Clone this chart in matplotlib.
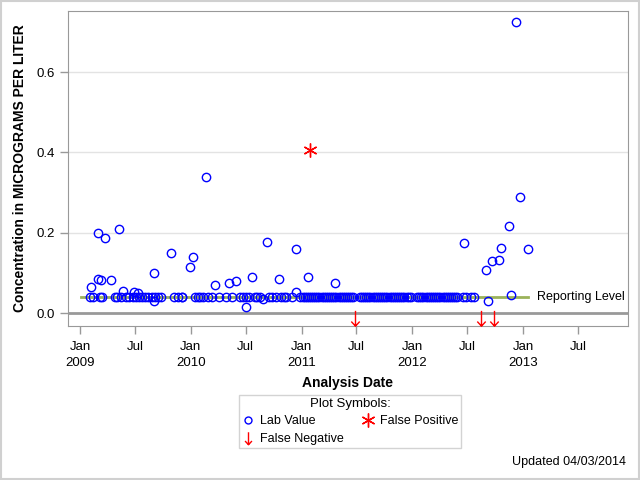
import matplotlib.pyplot as plt
from matplotlib.path import Path
from matplotlib.patches import Rectangle
import pandas as pd

plt.rcParams['font.family'] = ['Liberation Sans', 'DejaVu Sans']

# lab values above the reporting level (or just off it)
lab_dates = ['2009-02-07', '2009-02-27', '2009-03-02', '2009-03-09', '2009-03-22',
             '2009-04-14', '2009-05-10', '2009-05-23', '2009-06-28', '2009-07-11',
             '2009-08-31', '2009-09-01', '2009-10-27', '2009-12-29', '2010-01-09',
             '2010-02-20', '2010-03-23', '2010-05-05', '2010-05-31', '2010-06-30',
             '2010-07-21', '2010-08-26', '2010-09-08', '2010-10-18', '2010-12-12',
             '2010-12-15', '2011-01-21', '2011-04-21', '2012-06-18', '2012-09-01',
             '2012-09-07', '2012-09-20', '2012-10-13', '2012-10-19', '2012-11-14',
             '2012-11-22', '2012-12-07', '2012-12-20', '2013-01-16']
lab_values = [0.064, 0.200, 0.085, 0.082, 0.188,
              0.082, 0.210, 0.055, 0.053, 0.049,
              0.099, 0.029, 0.149, 0.114, 0.139,
              0.340, 0.071, 0.074, 0.080, 0.014,
              0.091, 0.034, 0.176, 0.084, 0.159,
              0.052, 0.089, 0.074, 0.174, 0.107,
              0.029, 0.129, 0.131, 0.161, 0.216,
              0.044, 0.724, 0.288, 0.159]

# lab values reported at the reporting level
rl_dates = ['2009-02-03', '2009-02-12', '2009-03-07', '2009-03-14', '2009-04-27',
            '2009-05-03', '2009-05-16', '2009-06-02', '2009-06-12', '2009-06-25',
            '2009-07-05', '2009-07-15', '2009-07-25', '2009-08-04', '2009-08-14',
            '2009-08-24', '2009-09-05', '2009-09-15', '2009-09-25', '2009-11-07',
            '2009-11-20', '2009-12-01', '2009-12-04', '2010-01-15', '2010-01-25',
            '2010-02-01', '2010-02-10', '2010-02-27', '2010-03-10', '2010-04-02',
            '2010-04-25', '2010-05-17', '2010-06-12', '2010-06-22', '2010-07-03',
            '2010-07-13', '2010-07-30', '2010-08-08', '2010-08-18', '2010-09-17',
            '2010-09-27', '2010-10-10', '2010-10-24', '2010-11-03', '2010-11-10',
            '2010-11-29', '2010-12-26',
            '2011-01-04', '2011-01-11', '2011-01-18', '2011-01-25', '2011-02-01',
            '2011-02-08', '2011-02-15', '2011-02-22', '2011-03-01', '2011-03-08',
            '2011-03-15', '2011-03-22', '2011-03-29', '2011-04-05', '2011-04-12',
            '2011-04-19', '2011-04-26', '2011-05-03', '2011-05-10', '2011-05-17',
            '2011-05-24', '2011-05-31', '2011-06-07', '2011-06-14', '2011-06-21',
            '2011-07-12', '2011-07-19', '2011-07-26', '2011-08-02', '2011-08-09',
            '2011-08-16', '2011-08-23', '2011-08-30', '2011-09-06', '2011-09-13',
            '2011-09-20', '2011-09-27', '2011-10-04', '2011-10-11', '2011-10-18',
            '2011-10-25', '2011-11-01', '2011-11-08', '2011-11-15', '2011-11-22',
            '2011-11-29', '2011-12-06', '2011-12-13', '2011-12-20', '2011-12-28',
            '2012-01-17', '2012-01-24', '2012-01-31', '2012-02-07', '2012-02-14',
            '2012-02-21', '2012-02-28', '2012-03-06', '2012-03-13', '2012-03-20',
            '2012-03-27', '2012-04-03', '2012-04-10', '2012-04-17', '2012-04-24',
            '2012-05-01', '2012-05-08', '2012-05-15', '2012-05-22', '2012-05-29',
            '2012-06-15', '2012-06-27', '2012-07-12', '2012-07-24']
rl_value = 0.04

fp_dates = ['2011-01-30']
fp_values = [0.406]

fn_dates = ['2011-06-25', '2012-08-14', '2012-09-28']
fn_y = -0.012

rl_start, rl_end = '2009-01-04', '2013-01-16'

tick_dates = ['2009-01-01', '2009-07-01', '2010-01-01', '2010-07-01', '2011-01-01',
              '2011-07-01', '2012-01-01', '2012-07-01', '2013-01-01', '2013-07-01']
tick_labels = ['Jan\n2009', 'Jul', 'Jan\n2010', 'Jul', 'Jan\n2011',
               'Jul', 'Jan\n2012', 'Jul', 'Jan\n2013', 'Jul']

arrow = Path([(0, 1), (0, -1), (-0.55, -0.4), (0, -1), (0.55, -0.4)],
             [Path.MOVETO, Path.LINETO, Path.MOVETO, Path.LINETO, Path.LINETO])

fig = plt.figure(figsize=(6.4, 4.8), dpi=100)
ax = fig.add_axes([0.106, 0.321, 0.875, 0.656])

ax.axhline(0, color='#999999', lw=2, zorder=1)
for v in [0.2, 0.4, 0.6]:
    ax.axhline(v, color='#e3e3e3', lw=1, zorder=0)

ax.plot(pd.to_datetime([rl_start, rl_end]), [rl_value, rl_value],
        color='#9bb25a', lw=2, zorder=2)
ax.text(pd.to_datetime('2013-02-14'), rl_value, 'Reporting Level',
        va='center', ha='left', fontsize=9)

ax.plot(pd.to_datetime(rl_dates), [rl_value] * len(rl_dates), ls='none',
        marker='o', ms=6, mfc='none', mec='blue', mew=1, zorder=3)
ax.plot(pd.to_datetime(lab_dates), lab_values, ls='none',
        marker='o', ms=6, mfc='none', mec='blue', mew=1, zorder=3)
ax.plot(pd.to_datetime(fp_dates), fp_values, ls='none',
        marker=(6, 2, 0), ms=10, mec='red', mew=1, zorder=3)
ax.plot(pd.to_datetime(fn_dates), [fn_y] * len(fn_dates), ls='none',
        marker=arrow, ms=11, mfc='none', mec='red', mew=1, zorder=3)

ax.set_xlim(pd.to_datetime('2008-11-21'), pd.to_datetime('2013-12-12'))
ax.set_ylim(-0.032, 0.752)
ax.set_xticks(pd.to_datetime(tick_dates))
ax.set_xticklabels(tick_labels, linespacing=1.45)
ax.set_yticks([0.0, 0.2, 0.4, 0.6])
ax.set_yticklabels(['0.0', '0.2', '0.4', '0.6'])
ax.tick_params(colors='#999999', labelcolor='black', labelsize=9.5, length=6, width=1)
ax.tick_params(axis='x', pad=5)
for s in ax.spines.values():
    s.set_color('#999999')

ax.set_xlabel('Analysis Date', fontsize=10, fontweight='bold', labelpad=5)
ax.set_ylabel('Concentration in MICROGRAMS PER LITER', fontsize=10, fontweight='bold', labelpad=7)

h1, = ax.plot([], [], ls='none', marker='o', ms=5, mfc='none', mec='blue', mew=1)
h2, = ax.plot([], [], ls='none', marker=(6, 2, 0), ms=10, mec='red', mew=1)
h3, = ax.plot([], [], ls='none', marker=arrow, ms=9, mfc='none', mec='red', mew=1)
leg = fig.legend([h1, h3, h2], ['Lab Value', 'False Negative', 'False Positive'],
                 ncol=2, loc='center', bbox_to_anchor=(0.547, 0.122),
                 title='Plot Symbols:', fontsize=9, title_fontsize=9.5,
                 fancybox=False, edgecolor='#c8c8c8', handletextpad=0.4,
                 columnspacing=1.5, borderpad=0.25, labelspacing=0.45, handlelength=1.0)
leg.get_frame().set_linewidth(1)

fig.text(0.978, 0.037, 'Updated 04/03/2014', ha='right', va='center', fontsize=9)
fig.patches.append(Rectangle((0.0015, 0.002), 0.997, 0.996, transform=fig.transFigure,
                             fill=False, edgecolor='#d0d0d0', lw=1.5))

fig.savefig('out.png', dpi=100)
